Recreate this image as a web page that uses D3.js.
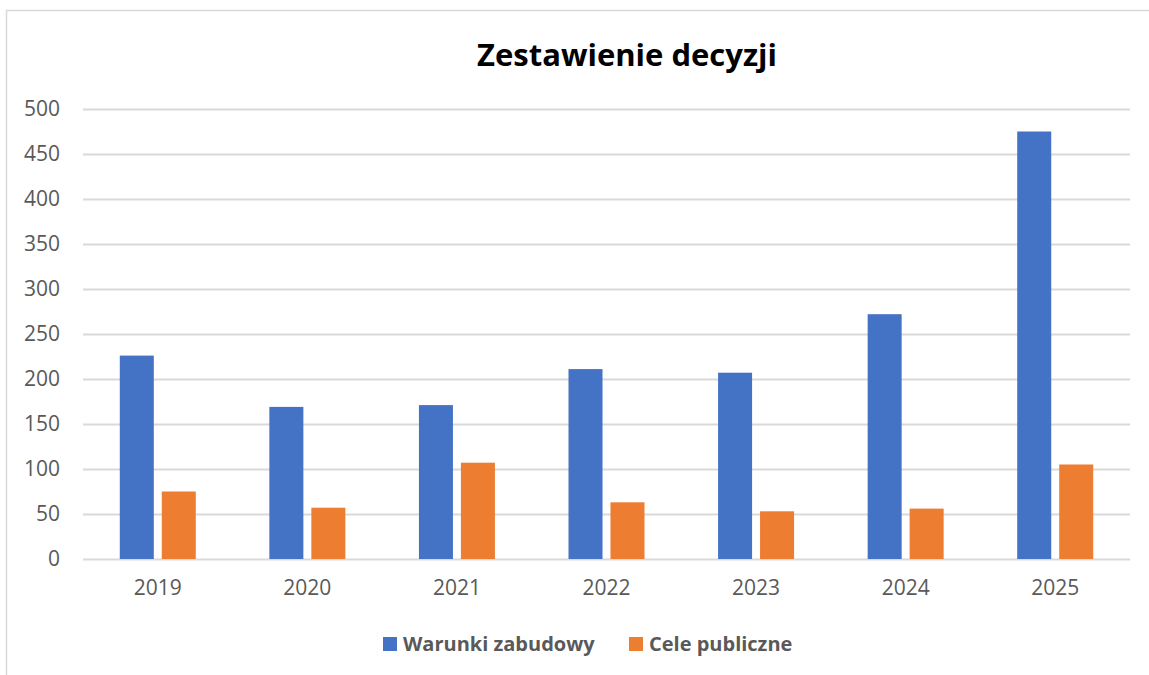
<!DOCTYPE html>
<html>
<head>
<meta charset="utf-8">
<script src="https://cdn.jsdelivr.net/npm/d3@7"></script>
<style>
  body { margin: 0; background: #fff; }
  svg { display: block; font-family: "Open Sans", sans-serif; }
</style>
</head>
<body>
<svg></svg>
<script>
var width = 1149;
var height = 675;

var years = ["2019", "2020", "2021", "2022", "2023", "2024", "2025"];
var warunki = [226, 169, 171, 211, 207, 272, 475];
var cele = [75, 57, 107, 63, 53, 56, 105];
var seriesNames = ["Warunki zabudowy", "Cele publiczne"];
var yTicks = [0, 50, 100, 150, 200, 250, 300, 350, 400, 450, 500];

var plotLeft = 83, plotRight = 1130, plotTop = 109, plotBottom = 559;

function color(name){
  switch(name) {
    case "Warunki zabudowy":
      return '#4472C4';
    case "Cele publiczne":
      return '#ED7D31';
    default:
      return 'black';
  }
}

var data = years.map(function(y, i){
  return { year: y, values: [warunki[i], cele[i]] };
});

var svg = d3.select('svg')
  .attr('width', width)
  .attr('height', height);

// chart frame (only top and left edges visible in crop)
svg.append('rect')
  .attr('x', 6.5)
  .attr('y', 10.5)
  .attr('width', 1200)
  .attr('height', 700)
  .attr('fill', 'none')
  .attr('stroke', '#d9d9d9')
  .attr('stroke-width', 1.5);

var x0 = d3.scaleBand()
  .domain(years)
  .range([plotLeft, plotRight]);

var groupWidth = 76;
var x1 = d3.scaleBand()
  .domain([0, 1])
  .range([(x0.bandwidth() - groupWidth) / 2, (x0.bandwidth() + groupWidth) / 2])
  .paddingInner(0.19);

var yScale = d3.scaleLinear()
  .domain([0, 500])
  .range([plotBottom, plotTop]);

// gridlines + y labels
var yAxis = svg.append('g')
  .attr('transform', `translate(${plotLeft}, 0)`)
  .call(d3.axisLeft(yScale)
    .tickValues(yTicks)
    .tickSize(-(plotRight - plotLeft))
    .tickPadding(23));
yAxis.select('.domain').remove();
yAxis.selectAll('.tick line')
  .attr('stroke', '#d9d9d9')
  .attr('stroke-width', 2);
yAxis.selectAll('.tick text')
  .attr('fill', '#595959')
  .style('font-size', '21px')
  .style('font-family', '"Open Sans", sans-serif');

// bars
var groups = svg.append('g')
  .selectAll('g')
  .data(data)
  .enter().append('g')
  .attr('transform', d => `translate(${x0(d.year)}, 0)`);

groups.selectAll('rect')
  .data(d => d.values.map((v, i) => ({ i: i, v: v })))
  .enter().append('rect')
  .attr('x', d => x1(d.i))
  .attr('width', x1.bandwidth())
  .attr('y', d => yScale(d.v))
  .attr('height', d => plotBottom - yScale(d.v))
  .attr('fill', d => color(seriesNames[d.i]));

// x labels
var xAxis = svg.append('g')
  .attr('transform', `translate(0, ${plotBottom})`)
  .call(d3.axisBottom(x0).tickSize(0).tickPadding(21));
xAxis.select('.domain').remove();
xAxis.selectAll('.tick text')
  .attr('fill', '#595959')
  .style('font-size', '21px')
  .style('font-family', '"Open Sans", sans-serif');

// title
svg.append('text')
  .attr('x', 627)
  .attr('y', 66)
  .style('text-anchor', 'middle')
  .style('font-size', '31px')
  .style('font-weight', 'bold')
  .attr('fill', '#000')
  .text('Zestawienie decyzji');

// legend
var legendX = [383, 629];
var legend = svg.append('g')
  .selectAll('g')
  .data(seriesNames)
  .enter().append('g')
  .attr('transform', (d, i) => `translate(${legendX[i]}, 637)`);

legend.append('rect')
  .attr('width', 14)
  .attr('height', 14)
  .attr('fill', d => color(d));

legend.append('text')
  .attr('x', 20)
  .attr('y', 14)
  .attr('fill', '#595959')
  .style('font-size', '20px')
  .style('font-weight', 'bold')
  .text(d => d);
</script>
</body>
</html>
